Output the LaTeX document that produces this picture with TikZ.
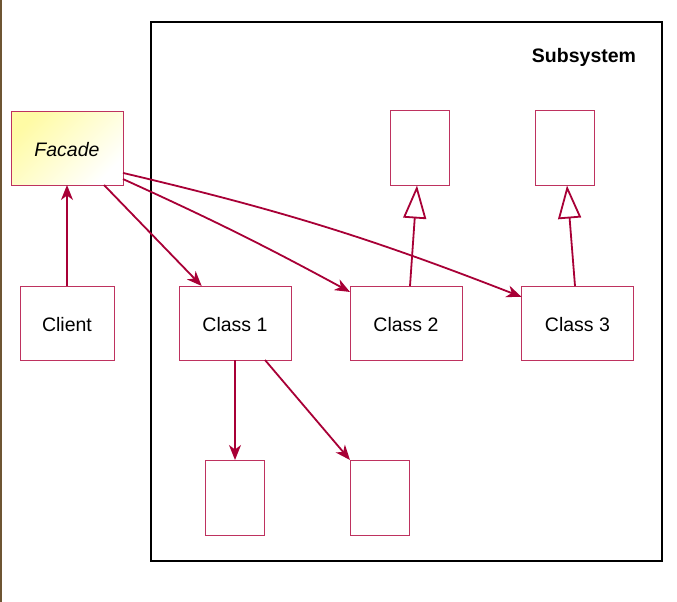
\documentclass[tikz,border=0pt]{standalone}
\usepackage{fontspec}
\setmainfont{Liberation Sans}
\usepackage{tikz}
\usetikzlibrary{arrows.meta, positioning}

\definecolor{umlred}{RGB}{168,0,54}
\definecolor{umlborder}{RGB}{190,50,95}
\definecolor{facadeyellow}{RGB}{255,251,165}
\definecolor{edgebrown}{RGB}{110,85,50}

\begin{document}
\begin{tikzpicture}[x=1pt, y=-1pt, outer sep=0pt, font=\fontsize{19.5}{22}\selectfont]
    \tikzstyle{cls} = [rectangle, draw=umlborder, line width=1pt, fill=white, minimum width=112pt, minimum height=74pt, inner sep=0pt, text height=17pt, text depth=0pt]
    \tikzstyle{small} = [cls, minimum width=59pt, minimum height=75pt]
    \tikzstyle{assoc} = [umlred, line width=1.8pt, -{Stealth[length=15pt, width=12pt, inset=4.5pt]}]
    \tikzstyle{inherit} = [umlred, line width=1.8pt, -{Triangle[open, fill=white, length=33pt, width=23pt]}]
    \useasboundingbox (0,0) rectangle (677,602);
    \fill[edgebrown] (0,0) rectangle (1.5,602);
    % subsystem frame
    \draw[line width=2.6pt] (151,22) rectangle (662,561);
    \node[font=\fontsize{19.5}{22}\selectfont\bfseries] (title) at (584,57.5) {Subsystem};
    % classes
    \node[cls, top color=facadeyellow, bottom color=white, shading angle=45, font=\fontsize{19.5}{22}\selectfont\itshape] (facade) at (67,148) {Facade};
    \node[cls, minimum width=94pt] (client) at (67,323) {Client};
    \node[cls] (class1) at (235,323) {Class 1};
    \node[cls] (class2) at (406,323) {Class 2};
    \node[cls] (class3) at (577.5,323) {Class 3};
    \node[small] (base2) at (419.5,148) {};
    \node[small] (base3) at (564.5,148) {};
    \node[small] (part1) at (235,497.5) {};
    \node[small] (part2) at (379.5,497.5) {};
    % relations
    \draw[assoc] (client) -- (facade);
    \draw[assoc] (facade.-45.8) -- (class1.132.6);
    \draw[assoc] (facade.-29.7) to[bend left=2] (class2.151.8);
    \draw[assoc] (facade.-24.5) to[bend left=4] (class3.155.3);
    \draw[inherit] ([xshift=4pt]class2.north) -- ([xshift=-2.5pt]base2.south);
    \draw[inherit] ([xshift=-2.5pt]class3.north) -- ([xshift=2.5pt]base3.south);
    \draw[assoc] (class1) -- (part1);
    \draw[assoc] ([xshift=30pt]class1.south) -- (part2.north west);
\end{tikzpicture}
\end{document}
